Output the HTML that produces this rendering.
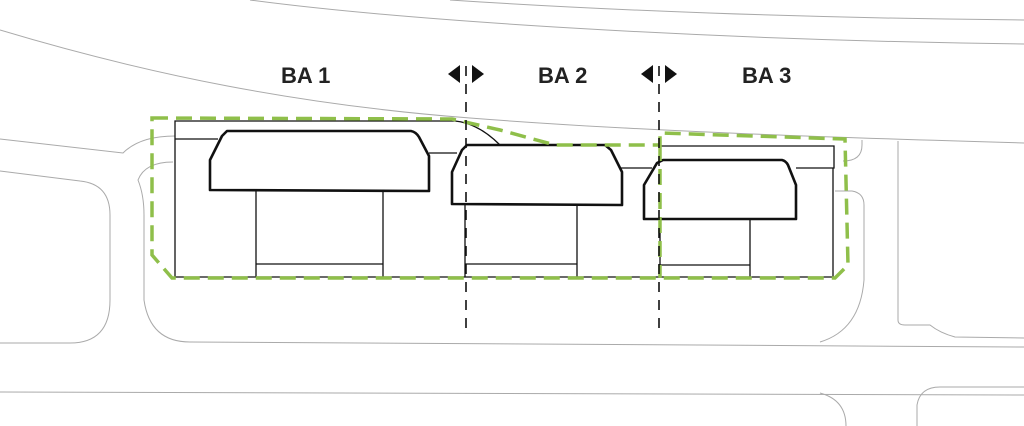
<!DOCTYPE html>
<html><head><style>
html,body{margin:0;padding:0;background:#fff;width:1024px;height:426px;overflow:hidden}
text{font-family:"Liberation Sans",sans-serif;font-weight:bold;font-size:22px;fill:#222}
</style></head><body>
<svg width="1024" height="426" viewBox="0 0 1024 426" xmlns="http://www.w3.org/2000/svg">
<g fill="none" stroke="#aaa" stroke-width="1">
<path d="M0,30 C150,75 300,105 470,118 C650,132 850,138 1024,143"/>
<path d="M250,0 C400,20 700,40 1024,44"/>
<path d="M450,0 C600,10 800,18 1024,20"/>
<path d="M0,139 L123,153 Q140,136 175,136"/>
<path d="M0,171 L80,181 Q110,184 110,215 L110,300 Q110,343 70,343 L0,343"/>
<path d="M173,162 Q145,162 138,180 Q144,195 144,215 L144,300 Q150,342 190,342 L1024,347"/>
<path d="M0,392 L1024,395"/>
<path d="M843,161 Q862,161 862,145 L862,140"/>
<path d="M835,191 L852,191 Q864,193 864,205 L864,280 Q860,330 820,342"/>
<path d="M898,141 L898,320 Q898,325 905,325 L930,325 Q940,333 955,337 L1024,338"/>
<path d="M917,426 L917,405 Q920,387 940,387 L1024,387"/>
<path d="M820,393 Q846,400 846,426"/>
</g>
<g fill="none" stroke="#111" stroke-width="1.3">
<path d="M175,139 L175,277 L833,277 L833,168"/>
<path d="M175,139 L218,139 M175,139 L175,121 L455,121 C475,123 490,135 500,145 L607,145"/>
<path d="M660,146 L834,146 L834,168 L796,168 M660,146 L660,160"/>
<path d="M429,153 L457,153 M620,168 L652,168"/>
<path d="M256,191 L256,277 M383,191 L383,277 M256,264 L383,264"/>
<path d="M465,205 L465,277 M577,205 L577,277 M465,264 L577,264"/>
<path d="M660,219 L660,277 M750,219 L750,277 M660,265 L750,265"/>
</g>
<g fill="#fff" stroke="#111" stroke-width="2.6" stroke-linejoin="round">
<path d="M227,131 L411,131 Q416,132 419,137 L429,156 L429,191 L210,190 L210,160 L222,136 Z"/>
<path d="M467,145 L605,145 L611,150 L622,172 L622,205 L452,204 L452,172 L462,150 Z"/>
<path d="M663,160 L782,160 Q786,161 788,165 L796,185 L796,219 L644,219 L644,185 L657,163 Z"/>
</g>
<g fill="none" stroke="#8fbf4a" stroke-width="3.5" stroke-dasharray="16,8">
<path d="M152,118 L452,119 L500,130 L555,145 L660,145 L660,133 L845,139 L848,265 L835,278 L172,278 L152,255 Z"/>
<path d="M660,145 L660,278"/>
</g>
<g stroke="#111" stroke-width="1.6" stroke-dasharray="10,8">
<line x1="466" y1="66" x2="466" y2="336"/>
<line x1="659" y1="66" x2="659" y2="336"/>
</g>
<g fill="#111">
<path d="M448,74 L460,65 L460,83 Z"/><path d="M484,74 L472,65 L472,83 Z"/>
<path d="M641,74 L653,65 L653,83 Z"/><path d="M677,74 L665,65 L665,83 Z"/>
</g>
<text x="281" y="83">BA 1</text>
<text x="538" y="83">BA 2</text>
<text x="742" y="83">BA 3</text>
</svg>
</body></html>
